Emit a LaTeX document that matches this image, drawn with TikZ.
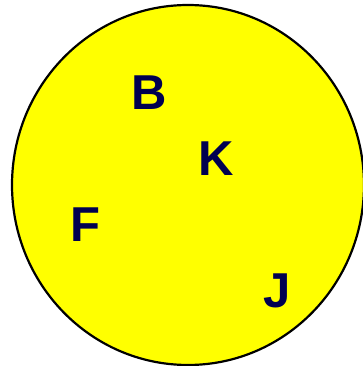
\documentclass[tikz,border=0pt]{standalone}
\usepackage{fontspec}
\setmainfont{Liberation Sans}
\usepackage{xcolor}
\definecolor{myyellow}{RGB}{255, 255, 0}
\definecolor{mynavy}{RGB}{0, 0, 80}
\tikzset{
  letter/.style={inner sep=0pt, anchor=center, text=mynavy, font=\fontsize{49}{49}\selectfont\bfseries}
}

\begin{document}
\begin{tikzpicture}[x=1pt,y=-1pt]
\useasboundingbox (0,0) rectangle (363,366);

\coordinate (O) at (188,185);
\filldraw[fill=myyellow,draw=black,line width=2.2pt] (O) ellipse [x radius=176, y radius=180];

\node[letter] (B) at (149,93) {B};
\node[letter] (K) at (216,159) {K};
\node[letter] (F) at (85,225) {F};
\node[letter] (J) at (277,291) {J};

\end{tikzpicture}
\end{document}
